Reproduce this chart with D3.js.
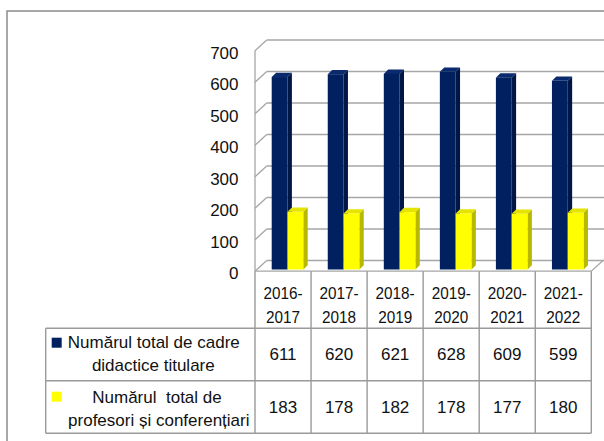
<!DOCTYPE html>
<html>
<head>
<meta charset="utf-8">
<script src="https://cdn.jsdelivr.net/npm/d3@7"></script>
<style>
  body { margin: 0; background: #fff; }
  svg text { font-family: "Liberation Sans Narrow", "Arial Narrow", "Liberation Sans", sans-serif; fill: #111; }
</style>
</head>
<body>
<div id="chart"></div>
<script>
const years = ['2016-2017', '2017-2018', '2018-2019', '2019-2020', '2020-2021', '2021-2022']
const seriesNames = ['Numărul total de cadre didactice titulare', 'Numărul total de profesori și conferențiari']
const legendLines = [['Numărul total de cadre', 'didactice titulare'], ['Numărul  total de', 'profesori și conferențiari']]
const cadre = [611, 620, 621, 628, 609, 599]
const profesori = [183, 178, 182, 178, 177, 180]
const yTicks = [0, 100, 200, 300, 400, 500, 600, 700]
const colors = [
  {front: '#002060', side: '#001646', top: '#0b2a6e'},
  {front: '#ffff00', side: '#b8b800', top: '#e4e400'}
]

const width = 604, height = 441
const depthX = 11.7, depthY = 10.7   // offset of back wall vs. front edge
const barDX = 4.4, barDY = 4.3

const svg = d3.select('#chart').append('svg')
  .attr('width', width).attr('height', height)

// outer frame
svg.append('path')
  .attr('d', 'M7,' + height + ' L7,11 L' + (width + 2) + ',11')
  .attr('fill', 'none').attr('stroke', '#8c8c8c').attr('stroke-width', 1.5)

const x = d3.scaleBand().domain(years).range([255, 591.3])
const xs = d3.scaleBand().domain([0, 1]).range([16.7, 48.3])
const yBack = d3.scaleLinear().domain([0, 700]).range([260.5, 40])
const yFront = v => yBack(v) + depthY
const yBar = v => yBack(v) + 9

const grid = svg.append('g').attr('stroke', '#a6a6a6').attr('stroke-width', 1.3).attr('fill', 'none')
const x0 = x.range()[0], xEnd = x.range()[1]

// back wall gridlines + left wall diagonals
yTicks.forEach(t => {
  grid.append('line')
    .attr('x1', x0 + depthX).attr('x2', width + 5)
    .attr('y1', yBack(t)).attr('y2', yBack(t))
  grid.append('line')
    .attr('x1', x0).attr('y1', yFront(t))
    .attr('x2', x0 + depthX).attr('y2', yBack(t))
})
// left wall front edge
grid.append('line').attr('x1', x0).attr('x2', x0).attr('y1', yFront(700)).attr('y2', yFront(0))
// floor front and right edges
grid.append('path')
  .attr('d', 'M' + x0 + ',' + yFront(0) + ' L' + xEnd + ',' + yFront(0) + ' L' + (xEnd + depthX) + ',' + yBack(0))

// y axis labels
svg.append('g').selectAll('text')
  .data(yTicks).enter().append('text')
  .attr('x', 238.5).attr('y', d => yFront(d) + 2)
  .attr('dy', '0.35em').attr('text-anchor', 'end')
  .style('font-size', '17px')
  .text(d => d)

// bars
const rows = years.map((yr, i) => ({yr: yr, vals: [cadre[i], profesori[i]]}))
const bars = svg.append('g')
rows.forEach(r => {
  r.vals.forEach((v, s) => {
    const bx = x(r.yr) + xs(s), bw = xs.bandwidth()
    const top = yBar(v), bot = yBar(0)
    const c = colors[s]
    const g = bars.append('g')
    g.append('path')
      .attr('d', `M${bx + bw},${bot} L${bx + bw + barDX},${bot - barDY} L${bx + bw + barDX},${top - barDY} L${bx + bw},${top} Z`)
      .attr('fill', c.side)
    g.append('path')
      .attr('d', `M${bx},${top} L${bx + barDX},${top - barDY} L${bx + bw + barDX},${top - barDY} L${bx + bw},${top} Z`)
      .attr('fill', c.top)
    g.append('rect')
      .attr('x', bx).attr('y', top).attr('width', bw).attr('height', bot - top)
      .attr('fill', c.front)
  })
})

// data table
const tTop = yFront(0), rowLines = [328.3, 380.7, 433.3], tLeft = 45.7
const table = svg.append('g').attr('stroke', '#9a9a9a').attr('stroke-width', 1.4).attr('fill', 'none')
years.forEach(yr => {
  table.append('line').attr('x1', x(yr)).attr('x2', x(yr)).attr('y1', tTop).attr('y2', rowLines[2])
})
table.append('line').attr('x1', xEnd).attr('x2', xEnd).attr('y1', tTop).attr('y2', rowLines[2])
table.append('line').attr('x1', tLeft).attr('x2', tLeft).attr('y1', rowLines[0]).attr('y2', rowLines[2])
rowLines.forEach(ly => {
  table.append('line').attr('x1', tLeft).attr('x2', xEnd).attr('y1', ly).attr('y2', ly)
})

// header labels (slightly condensed, like the original narrow font)
const hdr = svg.append('g')
years.forEach(yr => {
  const parts = yr.split('-')
  const cx = x(yr) + x.bandwidth() / 2
  const t = hdr.append('text').attr('text-anchor', 'middle').style('font-size', '17px')
    .attr('transform', 'translate(' + cx + ',0) scale(0.9,1)')
  t.append('tspan').attr('x', 0).attr('y', 293.5).attr('dy', '0.35em').text(parts[0] + '-')
  t.append('tspan').attr('x', 0).attr('y', 316.7).attr('dy', '0.35em').text(parts[1])
})

// values
const valueRows = [cadre, profesori]
const rowMid = [(rowLines[0] + rowLines[1]) / 2, (rowLines[1] + rowLines[2]) / 2]
valueRows.forEach((vals, s) => {
  svg.append('g').selectAll('text')
    .data(vals).enter().append('text')
    .attr('x', (d, i) => x(years[i]) + x.bandwidth() / 2)
    .attr('y', rowMid[s]).attr('dy', '0.35em')
    .attr('text-anchor', 'middle').style('font-size', '17px')
    .text(d => d)
})

// legend cells
const legendY = [[341.7, 365], [396.7, 420]]
const legendCx = [[153.8, 153.3], [157, 158.8]]
legendLines.forEach((lines, s) => {
  svg.append('rect')
    .attr('x', 51.7).attr('y', legendY[s][0] - 4 - (s ? 1 : 0)).attr('width', 10).attr('height', 10)
    .attr('fill', colors[s].front)
  lines.forEach((ln, k) => {
    svg.append('text')
      .attr('x', legendCx[s][k]).attr('y', legendY[s][k]).attr('dy', '0.35em')
      .attr('text-anchor', 'middle').style('font-size', '17px')
      .style('white-space', 'pre')
      .text(ln)
  })
})
</script>
</body>
</html>
